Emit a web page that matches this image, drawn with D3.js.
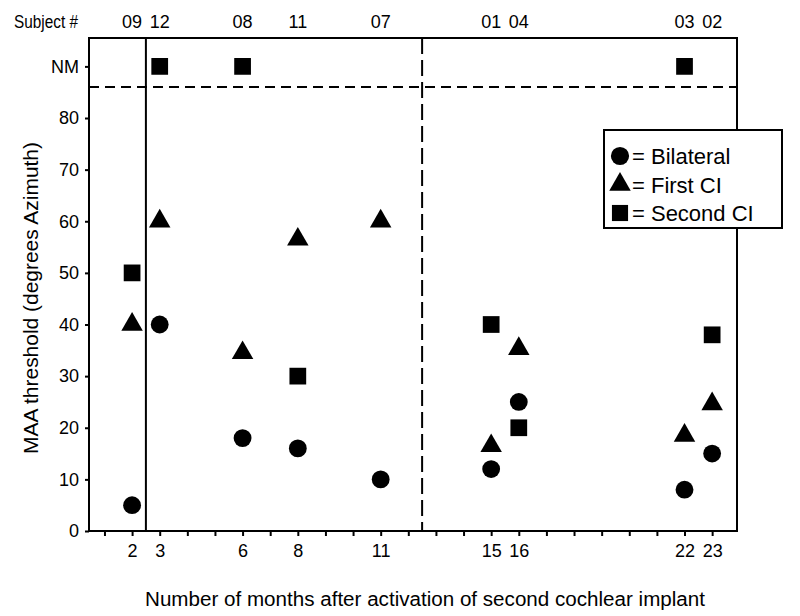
<!DOCTYPE html>
<html><head><meta charset="utf-8">
<script src="https://cdn.jsdelivr.net/npm/d3@7"></script>
<style>body{margin:0;background:#fff}svg{display:block}text{font-family:"Liberation Sans",Arial,sans-serif;fill:#000}</style>
</head><body><svg id="c" width="800" height="616"></svg>
<script>
const months = [2, 3, 6, 8, 11, 15, 16, 22, 23];
const subjects = ["09", "12", "08", "11", "07", "01", "04", "03", "02"];
const bilateral = [5, 40, 18, 16, 10, 12, 25, 8, 15];
const firstCI = [40, 60, 34.5, 56.5, 60, 16.5, 35.3, 18.5, 24.6];
const secondCI = [50, "NM", "NM", 30, null, 40, 20, "NM", 38];
const yTicks = [0, 10, 20, 30, 40, 50, 60, 70, 80];
const NM_VALUE = 90;
const NM_CUTOFF = 86;
const groupBoundaries = [2.5];
const dashedBoundary = 12.5;
const legendItems = [
  {label: "= Bilateral", shape: d3.symbolCircle},
  {label: "= First CI", shape: d3.symbolTriangle},
  {label: "= Second CI", shape: d3.symbolSquare}
];

const svg = d3.select("#c");
const L = 89, R = 737, T = 38, B = 531;
const x = d3.scaleLinear().domain([0.44, 23.9]).range([L, R]);
const y = d3.scaleLinear().domain([0, 95.5]).range([B, T]);

// frame
svg.append("rect").attr("x", L).attr("y", T).attr("width", R - L).attr("height", B - T)
  .attr("fill", "none").attr("stroke", "#000").attr("stroke-width", 2);

// y axis
const yAxis = d3.axisLeft(y).tickValues(yTicks.concat([NM_VALUE]))
  .tickFormat(d => d === NM_VALUE ? "NM" : d).tickSize(4).tickPadding(6);
const gy = svg.append("g").attr("transform", `translate(${L},0)`).call(yAxis);
gy.select(".domain").remove();
gy.selectAll("line").attr("stroke", "#000").attr("stroke-width", 2);
gy.selectAll("text").style("font-size", "18px").style("font-family", '"Liberation Sans",Arial,sans-serif');

// x axis
const xAxis = d3.axisBottom(x).tickValues(d3.range(1, 24))
  .tickFormat(d => months.includes(d) ? d : "").tickSize(5).tickPadding(8);
const gx = svg.append("g").attr("transform", `translate(0,${B})`).call(xAxis);
gx.select(".domain").remove();
gx.selectAll("line").attr("stroke", "#000").attr("stroke-width", 2);
gx.selectAll("text").style("font-size", "18px").style("font-family", '"Liberation Sans",Arial,sans-serif');

// divider lines
groupBoundaries.forEach(m => {
  svg.append("line").attr("x1", x(m)).attr("x2", x(m)).attr("y1", T).attr("y2", B)
    .attr("stroke", "#000").attr("stroke-width", 2);
});
svg.append("line").attr("x1", x(dashedBoundary)).attr("x2", x(dashedBoundary)).attr("y1", T).attr("y2", B)
  .attr("stroke", "#000").attr("stroke-width", 2).attr("stroke-dasharray", "16,6");
svg.append("line").attr("x1", L).attr("x2", R).attr("y1", y(NM_CUTOFF)).attr("y2", y(NM_CUTOFF))
  .attr("stroke", "#000").attr("stroke-width", 2).attr("stroke-dasharray", "10,6");

// subject labels
svg.append("text").attr("x", 14).attr("y", 28).style("font-size", "18px")
  .attr("textLength", 64).attr("lengthAdjust", "spacingAndGlyphs").text("Subject #");
svg.selectAll(".subj").data(months).enter().append("text")
  .attr("x", d => x(d)).attr("y", 28).attr("text-anchor", "middle").style("font-size", "18px")
  .text((d, i) => subjects[i]);

// markers
const sym = (shape, size) => d3.symbol().type(shape).size(size)();
function plot(values, shape, size) {
  const pts = months.map((m, i) => ({m, v: values[i]})).filter(p => p.v !== null)
    .map(p => ({m: p.m, v: p.v === "NM" ? NM_VALUE : p.v}));
  svg.selectAll(null).data(pts).enter().append("path")
    .attr("d", sym(shape, size))
    .attr("transform", p => `translate(${x(p.m)},${y(p.v)})`)
    .attr("fill", "#000");
}
plot(bilateral, d3.symbolCircle, 250);
plot(firstCI, d3.symbolTriangle, 200);
plot(secondCI, d3.symbolSquare, 280);

// legend
const lg = svg.append("g");
lg.append("rect").attr("x", 604).attr("y", 130).attr("width", 178).attr("height", 98)
  .attr("fill", "#fff").attr("stroke", "#000").attr("stroke-width", 2);
legendItems.forEach((it, i) => {
  const cy = 156 + i * 28.5;
  lg.append("path").attr("d", sym(it.shape, it.shape === d3.symbolTriangle ? 200 : 260))
    .attr("transform", `translate(620,${cy})`).attr("fill", "#000");
  lg.append("text").attr("x", 632).attr("y", cy + 8).style("font-size", "22px").text(it.label);
});

// axis titles
svg.append("text").attr("x", 425).attr("y", 606).attr("text-anchor", "middle")
  .style("font-size", "20px").attr("textLength", 560).attr("lengthAdjust", "spacingAndGlyphs")
  .text("Number of months after activation of second cochlear implant");
svg.append("text").attr("transform", "translate(38,298) rotate(-90)").attr("text-anchor", "middle")
  .style("font-size", "20px").attr("textLength", 312).attr("lengthAdjust", "spacingAndGlyphs")
  .text("MAA threshold (degrees Azimuth)");
</script></body></html>
